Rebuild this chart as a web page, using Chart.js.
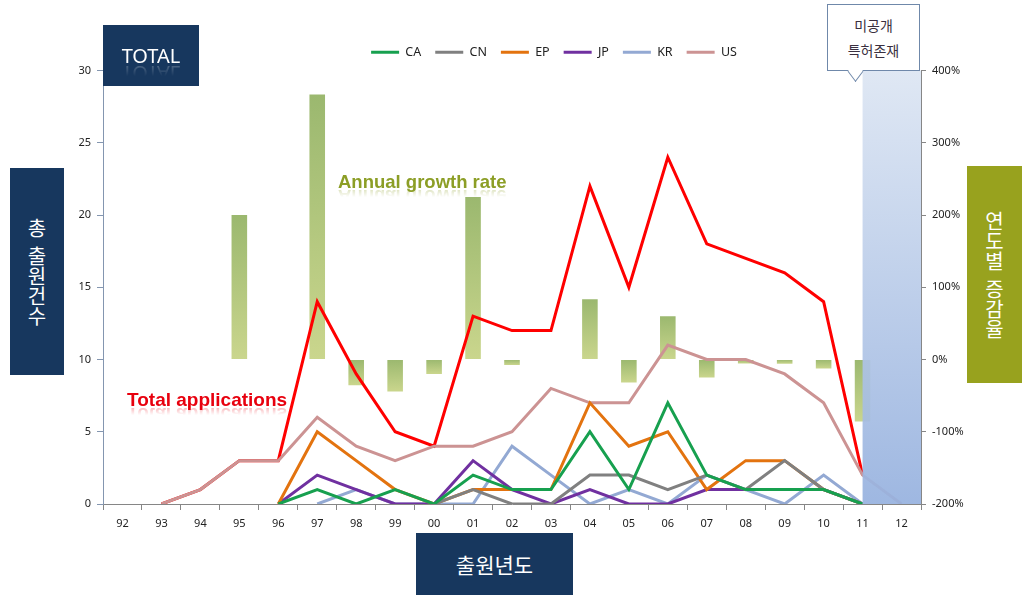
<!DOCTYPE html>
<html>
<head>
<meta charset="utf-8">
<script src="https://cdn.jsdelivr.net/npm/chart.js@4.4.1/dist/chart.umd.min.js"></script>
<style>
  body { margin: 0; background: #fff; }
  #wrap { position: relative; width: 1036px; height: 602px; overflow: hidden; font-family: "Noto Sans CJK KR", "Noto Sans", sans-serif; }
  #chart { position: absolute; left: 0; top: 0; }
  .tag { position: absolute; color: #fff; display: flex; align-items: center; justify-content: center; }
  .navy { background: #17375e; }
  .olive { background: #98a21e; }
  .vert { writing-mode: vertical-rl; text-orientation: upright; font-size: 20px; }
  .gap { display: inline-block; width: 1px; height: 8px; }
  .note { position: absolute; font-family: Arial, "Liberation Sans", sans-serif; font-weight: bold; white-space: nowrap;
          -webkit-box-reflect: below -8px linear-gradient(transparent 45%, rgba(255,255,255,0.45)); }
  #callout { position: absolute; left: 827px; top: 4px; width: 93px; height: 67px; background: #fff; border: 1px solid #6f88aa; box-sizing: border-box;
             color: #3a3040; font-size: 14px; line-height: 25px; text-align: center; padding-top: 8px; }
  #callout:after { content: ""; position: absolute; left: 21px; bottom: -8px; width: 12px; height: 12px; background: #fff;
                   border-right: 1px solid #6f88aa; border-bottom: 1px solid #6f88aa; transform: rotate(45deg) skew(8deg, 8deg); }
</style>
</head>
<body>
<div id="wrap">
  <canvas id="chart" width="1036" height="602"></canvas>
  <div class="tag navy" style="left:103px;top:25px;width:96px;height:61px;font-family:'Noto Sans',sans-serif;font-size:20px;">
    <span style="-webkit-box-reflect: below -9px linear-gradient(transparent 40%, rgba(255,255,255,0.35));">TOTAL</span>
  </div>
  <div class="tag navy vert" style="left:10px;top:168px;width:54px;height:207px;"><span>총<span class="gap"></span>출원건수</span></div>
  <div class="tag olive vert" style="left:967px;top:166px;width:55px;height:217px;"><span>연도별<span class="gap"></span>증감율</span></div>
  <div class="tag navy" style="left:416px;top:533px;width:157px;height:62px;font-size:21px;">출원년도</div>
  <div id="callout">미공개<br>특허존재</div>
  <div class="note" style="left:338px;top:171px;font-size:18.5px;color:#8c9e26;">Annual growth rate</div>
  <div class="note" style="left:127px;top:389px;font-size:19px;color:#e8000e;">Total applications</div>
</div>
<script>
// 출원년도
const years = ['92','93','94','95','96','97','98','99','00','01','02','03','04','05','06','07','08','09','10','11','12'];

// 국가별 출원건수
const caApps = [null,null,null,null,0,1,0,1,0,2,1,1,5,1,7,2,1,1,1,0,null];
const cnApps = [null,null,null,null,null,null,null,null,0,1,0,0,2,2,1,2,1,3,1,0,null];
const epApps = [null,null,null,null,0,5,3,1,0,1,1,1,7,4,5,1,3,3,1,0,null];
const jpApps = [null,null,null,null,0,2,1,0,0,3,1,0,1,0,0,1,1,1,1,0,null];
const krApps = [null,null,null,null,null,0,1,0,0,0,4,2,0,1,0,2,1,0,2,0,null];
const usApps = [null,0,1,3,3,6,4,3,4,4,5,8,7,7,11,10,10,9,7,2,0];

// 전체 출원건수
const totalApps = [null,0,1,3,3,14,9,5,4,13,12,12,22,15,24,18,17,16,14,2,null];

// 연도별 증감율 (%)
const growthRate = [null,null,null,200,0,366.7,-35.7,-44.4,-20,225,-7.7,0,83.3,-31.8,60,-25,-5.6,-5.9,-12.5,-85.7,null];

// 미공개 구간 시작
const hiddenFrom = '11';

const tickFont = { family: 'Noto Sans', size: 11 };

function lineSet(label, data, color) {
  return {
    type: 'line', label: label, data: data, yAxisID: 'y',
    borderColor: color, backgroundColor: color, borderWidth: 3,
    pointRadius: 0, tension: 0, fill: false
  };
}

// 막대 그라데이션
function barFill(ctx) {
  const chart = ctx.chart;
  const y1 = chart.scales.y1;
  if (!chart.chartArea || !y1 || ctx.raw == null) return '#b0c47c';
  const top = y1.getPixelForValue(Math.max(ctx.raw, 0));
  const bot = y1.getPixelForValue(Math.min(ctx.raw, 0));
  if (!isFinite(top) || !isFinite(bot) || bot - top < 1) return '#b0c47c';
  const g = chart.ctx.createLinearGradient(0, top, 0, bot);
  g.addColorStop(0, '#9bb86f');
  g.addColorStop(1, '#cad68d');
  return g;
}

// 미공개 특허 구간 음영
const hiddenShade = {
  id: 'hiddenShade',
  afterDatasetsDraw(chart) {
    const { ctx, chartArea: a, scales: { x } } = chart;
    const left = x.getPixelForValue(years.indexOf(hiddenFrom));
    const g = ctx.createLinearGradient(0, a.top, 0, a.bottom);
    g.addColorStop(0, 'rgba(221,230,243,0.93)');
    g.addColorStop(1, 'rgba(151,178,223,0.93)');
    ctx.save();
    ctx.fillStyle = g;
    ctx.fillRect(left, a.top, a.right - left, a.bottom - a.top);
    ctx.restore();
  }
};

// 범례 위치 조정
const legendPlace = {
  id: 'legendPlace',
  afterLayout(chart) {
    const lg = chart.legend;
    lg.top -= 2; lg.bottom -= 2;
    lg.left += 36; lg.right += 36;
  }
};

new Chart(document.getElementById('chart').getContext('2d'), {
  type: 'bar',
  data: {
    labels: years,
    datasets: [
      lineSet('CA', caApps, '#17a04f'),
      lineSet('CN', cnApps, '#808080'),
      lineSet('EP', epApps, '#e3730f'),
      lineSet('JP', jpApps, '#7030a0'),
      lineSet('KR', krApps, '#93a9d3'),
      lineSet('US', usApps, '#cc9393'),
      lineSet('Total', totalApps, '#ff0000'),
      {
        type: 'bar', label: 'Growth', data: growthRate, yAxisID: 'y1',
        backgroundColor: barFill, barPercentage: 0.4, categoryPercentage: 1
      }
    ]
  },
  options: {
    responsive: false,
    animation: false,
    layout: { padding: { top: 34, left: 0, right: 0, bottom: 0 } },
    plugins: {
      legend: {
        position: 'top',
        labels: {
          filter: item => item.datasetIndex < 6,
          usePointStyle: true, pointStyle: 'line', pointStyleWidth: 28, boxHeight: 12,
          padding: 14, color: '#222', font: { family: 'Noto Sans', size: 12.5 }
        }
      },
      tooltip: { enabled: false }
    },
    scales: {
      x: {
        offset: true,
        grid: { drawOnChartArea: false, offset: true, tickLength: 6, color: '#868686' },
        border: { color: '#868686' },
        ticks: { font: tickFont, color: '#222', padding: 7, maxRotation: 0, autoSkip: false },
        afterFit: s => { s.height = 98; }
      },
      y: {
        position: 'left', min: 0, max: 30,
        grid: { drawOnChartArea: false, tickLength: 6, color: '#8496b0' },
        border: { color: '#8496b0' },
        ticks: { stepSize: 5, font: tickFont, color: '#222', padding: 6 },
        afterFit: s => { s.width = 103; }
      },
      y1: {
        position: 'right', min: -200, max: 400,
        grid: { drawOnChartArea: false, tickLength: 5, color: '#868686' },
        border: { color: '#868686' },
        ticks: { stepSize: 100, font: tickFont, color: '#222', padding: 6, callback: v => v + '%' },
        afterFit: s => { s.width = 115; }
      }
    }
  },
  plugins: [hiddenShade, legendPlace]
});
</script>
</body>
</html>
